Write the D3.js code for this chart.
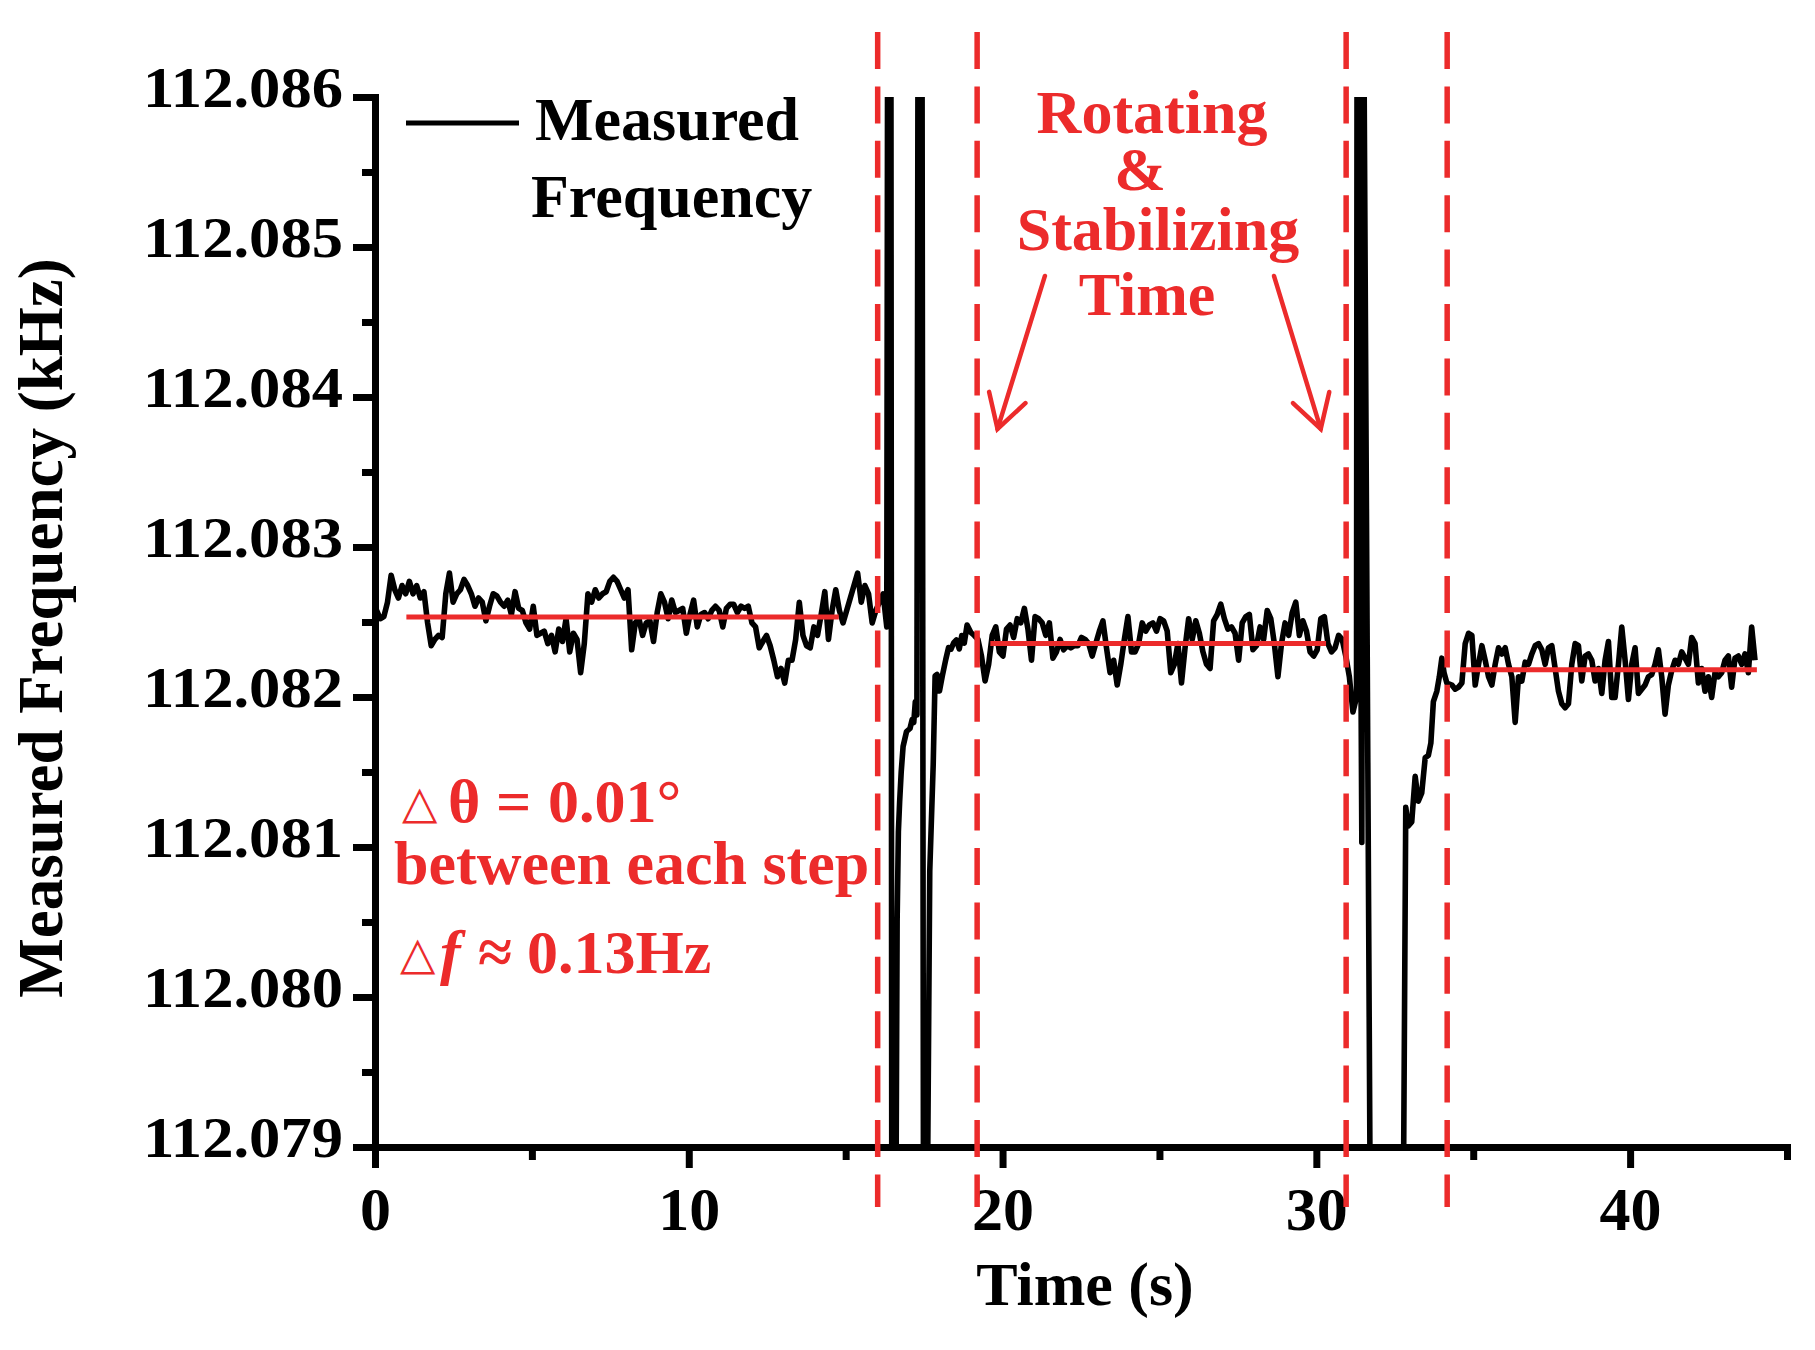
<!DOCTYPE html>
<html><head><meta charset="utf-8">
<script src="https://cdn.jsdelivr.net/npm/d3@7"></script>
<style>body{margin:0;background:#fff} svg{display:block}</style>
</head><body>
<svg id="chart" width="1815" height="1350"></svg>
<script>
// ---------------- DATA ----------------
// Stable segment 1 (uniformly sampled)
const seg1Start = 0.05, seg1End = 16.31;
const seg1Freq = [
112.082577,112.082522,112.082536,112.082632,112.082812,112.082715,112.082660,112.082743,112.082688,112.082771,
112.082688,112.082743,112.082660,112.082702,112.082494,112.082342,112.082384,112.082411,112.082397,112.082688,
112.082826,112.082632,112.082688,112.082715,112.082784,112.082743,112.082688,112.082605,112.082660,112.082632,
112.082508,112.082605,112.082688,112.082674,112.082632,112.082605,112.082646,112.082550,112.082702,112.082591,
112.082577,112.082494,112.082453,112.082605,112.082411,112.082425,112.082439,112.082356,112.082411,112.082301,
112.082453,112.082370,112.082522,112.082301,112.082425,112.082384,112.082162,112.082356,112.082688,112.082632,
112.082715,112.082660,112.082688,112.082702,112.082771,112.082798,112.082771,112.082715,112.082660,112.082715,
112.082315,112.082494,112.082522,112.082411,112.082494,112.082508,112.082370,112.082563,112.082688,112.082632,
112.082522,112.082646,112.082563,112.082577,112.082591,112.082425,112.082550,112.082646,112.082467,112.082550,
112.082563,112.082522,112.082577,112.082605,112.082577,112.082467,112.082591,112.082618,112.082618,112.082563,
112.082605,112.082591,112.082605,112.082494,112.082467,112.082328,112.082370,112.082411,112.082342,112.082245,
112.082135,112.082190,112.082093,112.082245,112.082245,112.082384,112.082632,112.082411,112.082342,112.082328,
112.082467,112.082411,112.082550,112.082702,112.082384,112.082577,112.082715,112.082577,112.082494,112.082577,
112.082660,112.082743,112.082826,112.082632,112.082743,112.082688,112.082494,112.082577,112.082632,112.082688,
112.082467];

// First rotation transient (explicit samples; values beyond the axis range are clipped)
const trans1Time = [16.34,16.44,16.47,16.60,16.64,16.68,16.72,16.77,16.83,16.94,17.05,17.12,17.17,17.22,17.27,17.31,17.43,17.48,17.60,
  17.68,17.79,17.85,17.91,17.99,18.08,18.19,18.28,18.36,18.44,18.53,18.62,18.70,18.78,18.87,18.99,19.10];
const trans1Freq = [112.0870,112.0870,112.0785,112.0785,112.0805,112.0811,112.0813,112.0815,112.08167,112.08177,112.08179,112.08185,112.08183,112.08197,112.08188,112.0870,112.0870,112.0785,112.0785,
  112.08084,112.08155,112.08214,112.08215,112.08204,112.08214,112.08225,112.08233,112.08232,112.08236,112.08238,112.08232,112.08241,112.08236,112.08248,112.08243,112.08241];

// Stable segment 2
const seg2Start = 19.215, seg2End = 31.28;
const seg2Freq = [
112.082384,112.082273,112.082107,112.082218,112.082411,112.082467,112.082301,112.082273,112.082453,112.082480,
112.082397,112.082522,112.082494,112.082591,112.082453,112.082245,112.082536,112.082522,112.082494,112.082411,
112.082494,112.082259,112.082301,112.082384,112.082315,112.082342,112.082328,112.082342,112.082342,112.082397,
112.082384,112.082356,112.082273,112.082356,112.082439,112.082508,112.082328,112.082162,112.082245,112.082080,
112.082218,112.082384,112.082536,112.082301,112.082301,112.082356,112.082494,112.082439,112.082480,112.082494,
112.082439,112.082522,112.082508,112.082439,112.082162,112.082218,112.082356,112.082093,112.082328,112.082522,
112.082384,112.082508,112.082425,112.082301,112.082218,112.082190,112.082508,112.082550,112.082619,112.082522,
112.082453,112.082467,112.082425,112.082245,112.082494,112.082536,112.082550,112.082315,112.082342,112.082467,
112.082384,112.082577,112.082522,112.082356,112.082135,112.082356,112.082494,112.082411,112.082563,112.082632,
112.082411,112.082508,112.082439,112.082301,112.082273,112.082315,112.082522,112.082536,112.082356,112.082301,
112.082328,112.082411,112.082384,112.082273,112.082135,112.081900,112.081997];

// Second rotation transient + recovery
const trans2Time = [31.30,31.45,31.50,31.72,32.77,32.85,32.93,33.04,33.15,33.25,33.36,33.47,33.57,33.65,33.73,33.84,33.92,34.00,34.07,34.16];
const trans2Freq = [112.0870,112.08103,112.0870,112.0785,112.0785,112.081264,112.081140,112.081167,112.081471,112.081306,112.081361,112.081596,112.081610,112.081693,112.081969,112.082038,112.082135,112.082259,112.082162,112.082093];

// Stable segment 3
const seg3Start = 34.32, seg3End = 43.98;
const seg3Freq = [
112.082080,112.082052,112.082066,112.082093,112.082356,112.082425,112.082411,112.082080,112.082218,112.082342,
112.082245,112.082135,112.082080,112.082218,112.082328,112.082287,112.082328,112.082218,112.082135,112.081831,
112.082135,112.082107,112.082232,112.082218,112.082287,112.082342,112.082356,112.082315,112.082218,112.082328,
112.082342,112.082190,112.082038,112.081955,112.081928,112.081955,112.082218,112.082356,112.082342,112.082107,
112.082273,112.082287,112.082245,112.082107,112.082190,112.082024,112.082245,112.082370,112.081997,112.081997,
112.082218,112.082467,112.082245,112.081983,112.082218,112.082328,112.082024,112.082052,112.082080,112.082135,
112.082149,112.082218,112.082315,112.082135,112.081886,112.082080,112.082176,112.082245,112.082218,112.082301,
112.082259,112.082218,112.082397,112.082356,112.082093,112.082190,112.082038,112.082135,112.081997,112.082162,
112.082135,112.082162,112.082245,112.082273,112.082066,112.082259,112.082273,112.082218,112.082287,112.082162,
112.082467,112.082245];

// Mean (red) lines
const meanStart = [1.0, 19.61, 34.58];
const meanEnd   = [14.78, 30.31, 44.04];
const meanFreq  = [112.082533, 112.082356, 112.082182];

// Red dashed boundaries (s)
const boundaryTimes = [16.02, 19.19, 30.95, 34.17];

// Axis ticks
const xMajorTicks = [0, 10, 20, 30, 40];
const xMinorTicks = [5, 15, 25, 35, 45];
const yMajorTicks = [112.079, 112.080, 112.081, 112.082, 112.083, 112.084, 112.085, 112.086];
const yMinorTicks = [112.0795, 112.0805, 112.0815, 112.0825, 112.0835, 112.0845, 112.0855];

// Arrow annotations (data coords: tail -> tip)
const arrowTailTime = [21.35, 28.65];
const arrowTailFreq = [112.084807, 112.084807];
const arrowTipTime  = [19.84, 30.14];
const arrowTipFreq  = [112.083787, 112.083787];

// ---------------- DRAW ----------------
const RED = "#ec2b2b";
const SERIF = "'Liberation Serif','Times New Roman',Times,serif";
const svg = d3.select("#chart");
svg.append("rect").attr("width",1815).attr("height",1350).attr("fill","#fff");

const x = d3.scaleLinear().domain([0, 45]).range([375, 1787]);
const y = d3.scaleLinear().domain([112.079, 112.086]).range([1147, 97]);

function uniform(vals, t0, t1){ const n = vals.length; return vals.map((v,i)=>({t: t0 + (t1-t0)*i/(n-1), v})); }
function explicit(ts, vs){ return ts.map((t,i)=>({t, v: vs[i]})); }
const series = [].concat(
  uniform(seg1Freq, seg1Start, seg1End),
  explicit(trans1Time, trans1Freq),
  uniform(seg2Freq, seg2Start, seg2End),
  explicit(trans2Time, trans2Freq),
  uniform(seg3Freq, seg3Start, seg3End)
);

svg.append("defs").append("clipPath").attr("id","plotclip")
  .append("rect").attr("x", x(0)).attr("y", y(112.086))
  .attr("width", x(45)-x(0)).attr("height", y(112.079)-y(112.086));

// data line
const line = d3.line().x(d=>x(d.t)).y(d=>y(d.v));
svg.append("path").datum(series)
  .attr("clip-path","url(#plotclip)")
  .attr("d", line).attr("fill","none").attr("stroke","#000")
  .attr("stroke-width",5.6).attr("stroke-linejoin","round");

// mean lines
svg.append("g").selectAll("line").data(meanFreq).join("line")
  .attr("x1",(d,i)=>x(meanStart[i])).attr("x2",(d,i)=>x(meanEnd[i]))
  .attr("y1",d=>y(d)).attr("y2",d=>y(d))
  .attr("stroke",RED).attr("stroke-width",5);

// axes
const gx = svg.append("g").attr("transform",`translate(0,${y(112.079)})`)
  .call(d3.axisBottom(x).tickValues(xMajorTicks).tickSize(21).tickSizeOuter(0).tickFormat(d3.format("d")));
const gxm = svg.append("g").attr("transform",`translate(0,${y(112.079)})`)
  .call(d3.axisBottom(x).tickValues(xMinorTicks).tickSize(13).tickSizeOuter(0).tickFormat(""));
const gy = svg.append("g").attr("transform",`translate(${x(0)},0)`)
  .call(d3.axisLeft(y).tickValues(yMajorTicks).tickSize(22).tickSizeOuter(0).tickFormat(d3.format(".3f")));
const gym = svg.append("g").attr("transform",`translate(${x(0)},0)`)
  .call(d3.axisLeft(y).tickValues(yMinorTicks).tickSize(13).tickSizeOuter(0).tickFormat(""));
gxm.select(".domain").remove(); gym.select(".domain").remove();
[gx,gxm,gy,gym].forEach(g=>{
  g.selectAll(".tick line").attr("stroke","#000").attr("stroke-width",7);
  g.select(".domain").attr("stroke","#000").attr("stroke-width",7).attr("stroke-linecap","square");
});
gx.selectAll(".tick text").attr("y",83).attr("dy",0)
  .style("font-family",SERIF).style("font-weight","bold").style("font-size","62px").attr("fill","#000");
gy.selectAll(".tick text").attr("x",-32).attr("dy",0).attr("y",9)
  .attr("textLength",200).attr("lengthAdjust","spacingAndGlyphs")
  .style("font-family",SERIF).style("font-weight","bold").style("font-size","58px").attr("fill","#000");

// dashed boundaries
svg.append("g").selectAll("line").data(boundaryTimes).join("line")
  .attr("x1",d=>x(d)).attr("x2",d=>x(d))
  .attr("y1", y(112.086)-65).attr("y2", y(112.079)+60)
  .attr("stroke",RED).attr("stroke-width",5.5).attr("stroke-dasharray","37,17.4");

// axis titles
svg.append("text").attr("x",1085).attr("y",1305).attr("text-anchor","middle")
  .style("font-family",SERIF).style("font-weight","bold").style("font-size","62px").text("Time (s)");
svg.append("text").attr("transform","translate(62,628) rotate(-90)").attr("text-anchor","middle")
  .style("font-family",SERIF).style("font-weight","bold").style("font-size","63px").text("Measured Frequency (kHz)");

// legend
svg.append("line").attr("x1",406).attr("x2",519).attr("y1",123).attr("y2",123).attr("stroke","#000").attr("stroke-width",5);
svg.append("text").attr("x",535).attr("y",140).style("font-family",SERIF).style("font-weight","bold").style("font-size","62px").text("Measured");
svg.append("text").attr("x",531).attr("y",217).style("font-family",SERIF).style("font-weight","bold").style("font-size","62px").text("Frequency");

// annotation: Rotating & Stabilizing Time
const ann = [["Rotating",1152,133],["&",1140,190],["Stabilizing",1158,250],["Time",1147,315]];
svg.append("g").selectAll("text").data(ann).join("text")
  .attr("x",d=>d[1]).attr("y",d=>d[2]).attr("text-anchor","middle").attr("fill",RED)
  .style("font-family",SERIF).style("font-weight","bold").style("font-size","62px").text(d=>d[0]);

// arrows
const ag = svg.append("g").attr("stroke",RED).attr("stroke-width",4.5).attr("fill","none").attr("stroke-linecap","round");
arrowTipTime.forEach((tt,i)=>{
  const x1 = x(arrowTailTime[i]), y1 = y(arrowTailFreq[i]), x2 = x(tt), y2 = y(arrowTipFreq[i]);
  ag.append("line").attr("x1",x1).attr("y1",y1).attr("x2",x2).attr("y2",y2);
  const ang = Math.atan2(y1-y2, x1-x2), L = 38, a = Math.PI/6;
  ag.append("path").attr("d",
    `M${x2+L*Math.cos(ang-a)},${y2+L*Math.sin(ang-a)}L${x2},${y2}L${x2+L*Math.cos(ang+a)},${y2+L*Math.sin(ang+a)}`);
});

// annotation: delta theta and delta f
const tri = "'DejaVu Sans','Noto Sans',sans-serif";
const t1 = svg.append("text").attr("y",822).attr("fill",RED).style("font-family",SERIF).style("font-weight","bold").style("font-size","62px");
t1.append("tspan").attr("x",402).attr("y",818).style("font-family",tri).style("font-weight","normal").style("font-size","46px").text("△");
t1.append("tspan").attr("x",448).attr("y",822).text("θ");
t1.append("tspan").attr("x",496).text("=");
t1.append("tspan").attr("x",548).text("0.01°");
svg.append("text").attr("x",394).attr("y",884).attr("fill",RED).style("font-family",SERIF).style("font-weight","bold").style("font-size","62px").text("between each step");
const t3 = svg.append("text").attr("y",973).attr("fill",RED).style("font-family",SERIF).style("font-weight","bold").style("font-size","62px");
t3.append("tspan").attr("x",400).attr("y",969).style("font-family",tri).style("font-weight","normal").style("font-size","46px").text("△");
t3.append("tspan").attr("x",440).attr("y",973).style("font-style","italic").text("f");
t3.append("tspan").attr("x",478).text("≈");
t3.append("tspan").attr("x",527).text("0.13Hz");
</script>
</body></html>
